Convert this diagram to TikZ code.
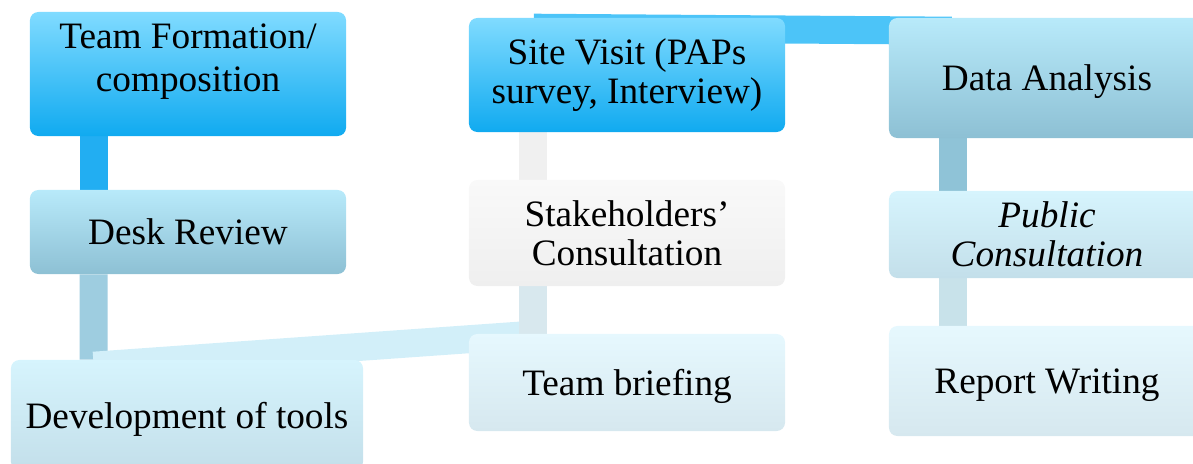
\documentclass[tikz,border=0pt]{standalone}
\usepackage{fontspec}
\setmainfont{Liberation Serif}
\usetikzlibrary{calc,backgrounds}
\definecolor{blueTop}{HTML}{80DBFF}
\definecolor{blueBot}{HTML}{10AAF0}
\definecolor{midTop}{HTML}{B8EAFA}
\definecolor{midBot}{HTML}{8DC0D4}
\definecolor{paleTop}{HTML}{D6F4FD}
\definecolor{paleBot}{HTML}{C3DFEA}
\definecolor{iceTop}{HTML}{E6F8FE}
\definecolor{iceBot}{HTML}{D6E8EF}
\definecolor{greyTop}{HTML}{F9F9F9}
\definecolor{greyBot}{HTML}{EFEFEF}

\begin{document}
\begin{tikzpicture}[x=0.025cm,y=-0.025cm,
  stepbox/.style={rectangle, rounded corners=6pt, inner sep=0pt, minimum width=7.9cm, align=center, text=black, font=\fontsize{26.5}{27.5}\selectfont},
  oneline/.style={text depth=0pt},
  bluebox/.style={stepbox, top color=blueTop, bottom color=blueBot},
  midbox/.style={stepbox, top color=midTop, bottom color=midBot},
  palebox/.style={stepbox, top color=paleTop, bottom color=paleBot},
  icebox/.style={stepbox, top color=iceTop, bottom color=iceBot},
  greybox/.style={stepbox, top color=greyTop, bottom color=greyBot},
  bar/.style={line width=0.7cm, line cap=butt}]
\useasboundingbox (0,0) rectangle (1193,464);
% left column
\node[bluebox, minimum height=3.1cm] (form) at (188,74) {Team Formation/\\[3pt]composition\\[-4pt]\mbox{}};
\node[midbox, oneline, minimum height=2.1cm] (desk) at (188,232) {Desk Review};
\node[palebox, oneline, minimum width=8.8cm, minimum height=2.75cm] (dev) at (187,415) {Development of tools};
% middle column
\node[bluebox, minimum height=2.85cm] (site) at (627,75) {Site Visit (PAPs\\survey, Interview)};
\node[greybox, minimum height=2.65cm] (stake) at (627,233) {Stakeholders’\\Consultation};
\node[icebox, oneline, minimum height=2.425cm] (brief) at (627,382.5) {Team briefing};
% right column
\node[midbox, oneline, minimum height=3cm] (data) at (1047,78) {Data Analysis};
\node[palebox, minimum height=2.175cm] (pub) at (1047,234.5) {\textit{Public}\\\textit{Consultation}};
\node[icebox, oneline, minimum height=2.75cm] (report) at (1047,381) {Report Writing};
\begin{scope}[on background layer]
\draw[bar, draw={rgb,255:red,34;green,174;blue,242}] ($(form.south west)+(64,0)$) -- ($(desk.north west)+(64,0)$);
\draw[bar, draw={rgb,255:red,158;green,205;blue,224}] ($(desk.south west)+(64,0)$) -- ($(dev.north west)+(83,0)$);
\draw[bar, draw={rgb,255:red,210;green,239;blue,249}] ($(dev.north west)+(83,6)$) -- ($(brief.north west)+(64,1)$);
\draw[bar, draw={rgb,255:red,216;green,232;blue,238}] ($(brief.north west)+(64,1)$) -- ($(stake.south west)+(64,0)$);
\draw[bar, draw={rgb,255:red,240;green,240;blue,240}] ($(stake.north west)+(64,0)$) -- ($(site.south west)+(64,0)$);
\draw[bar, draw={rgb,255:red,76;green,196;blue,248}] ($(site.north west)+(65,10)$) -- ($(data.north west)+(63,13)$);
\draw[bar, draw={rgb,255:red,143;green,195;blue,215}] ($(data.south west)+(64,0)$) -- ($(pub.north west)+(64,0)$);
\draw[bar, draw={rgb,255:red,200;green,226;blue,234}] ($(pub.south west)+(64,0)$) -- ($(report.north west)+(64,0)$);
\end{scope}
\end{tikzpicture}
\end{document}
